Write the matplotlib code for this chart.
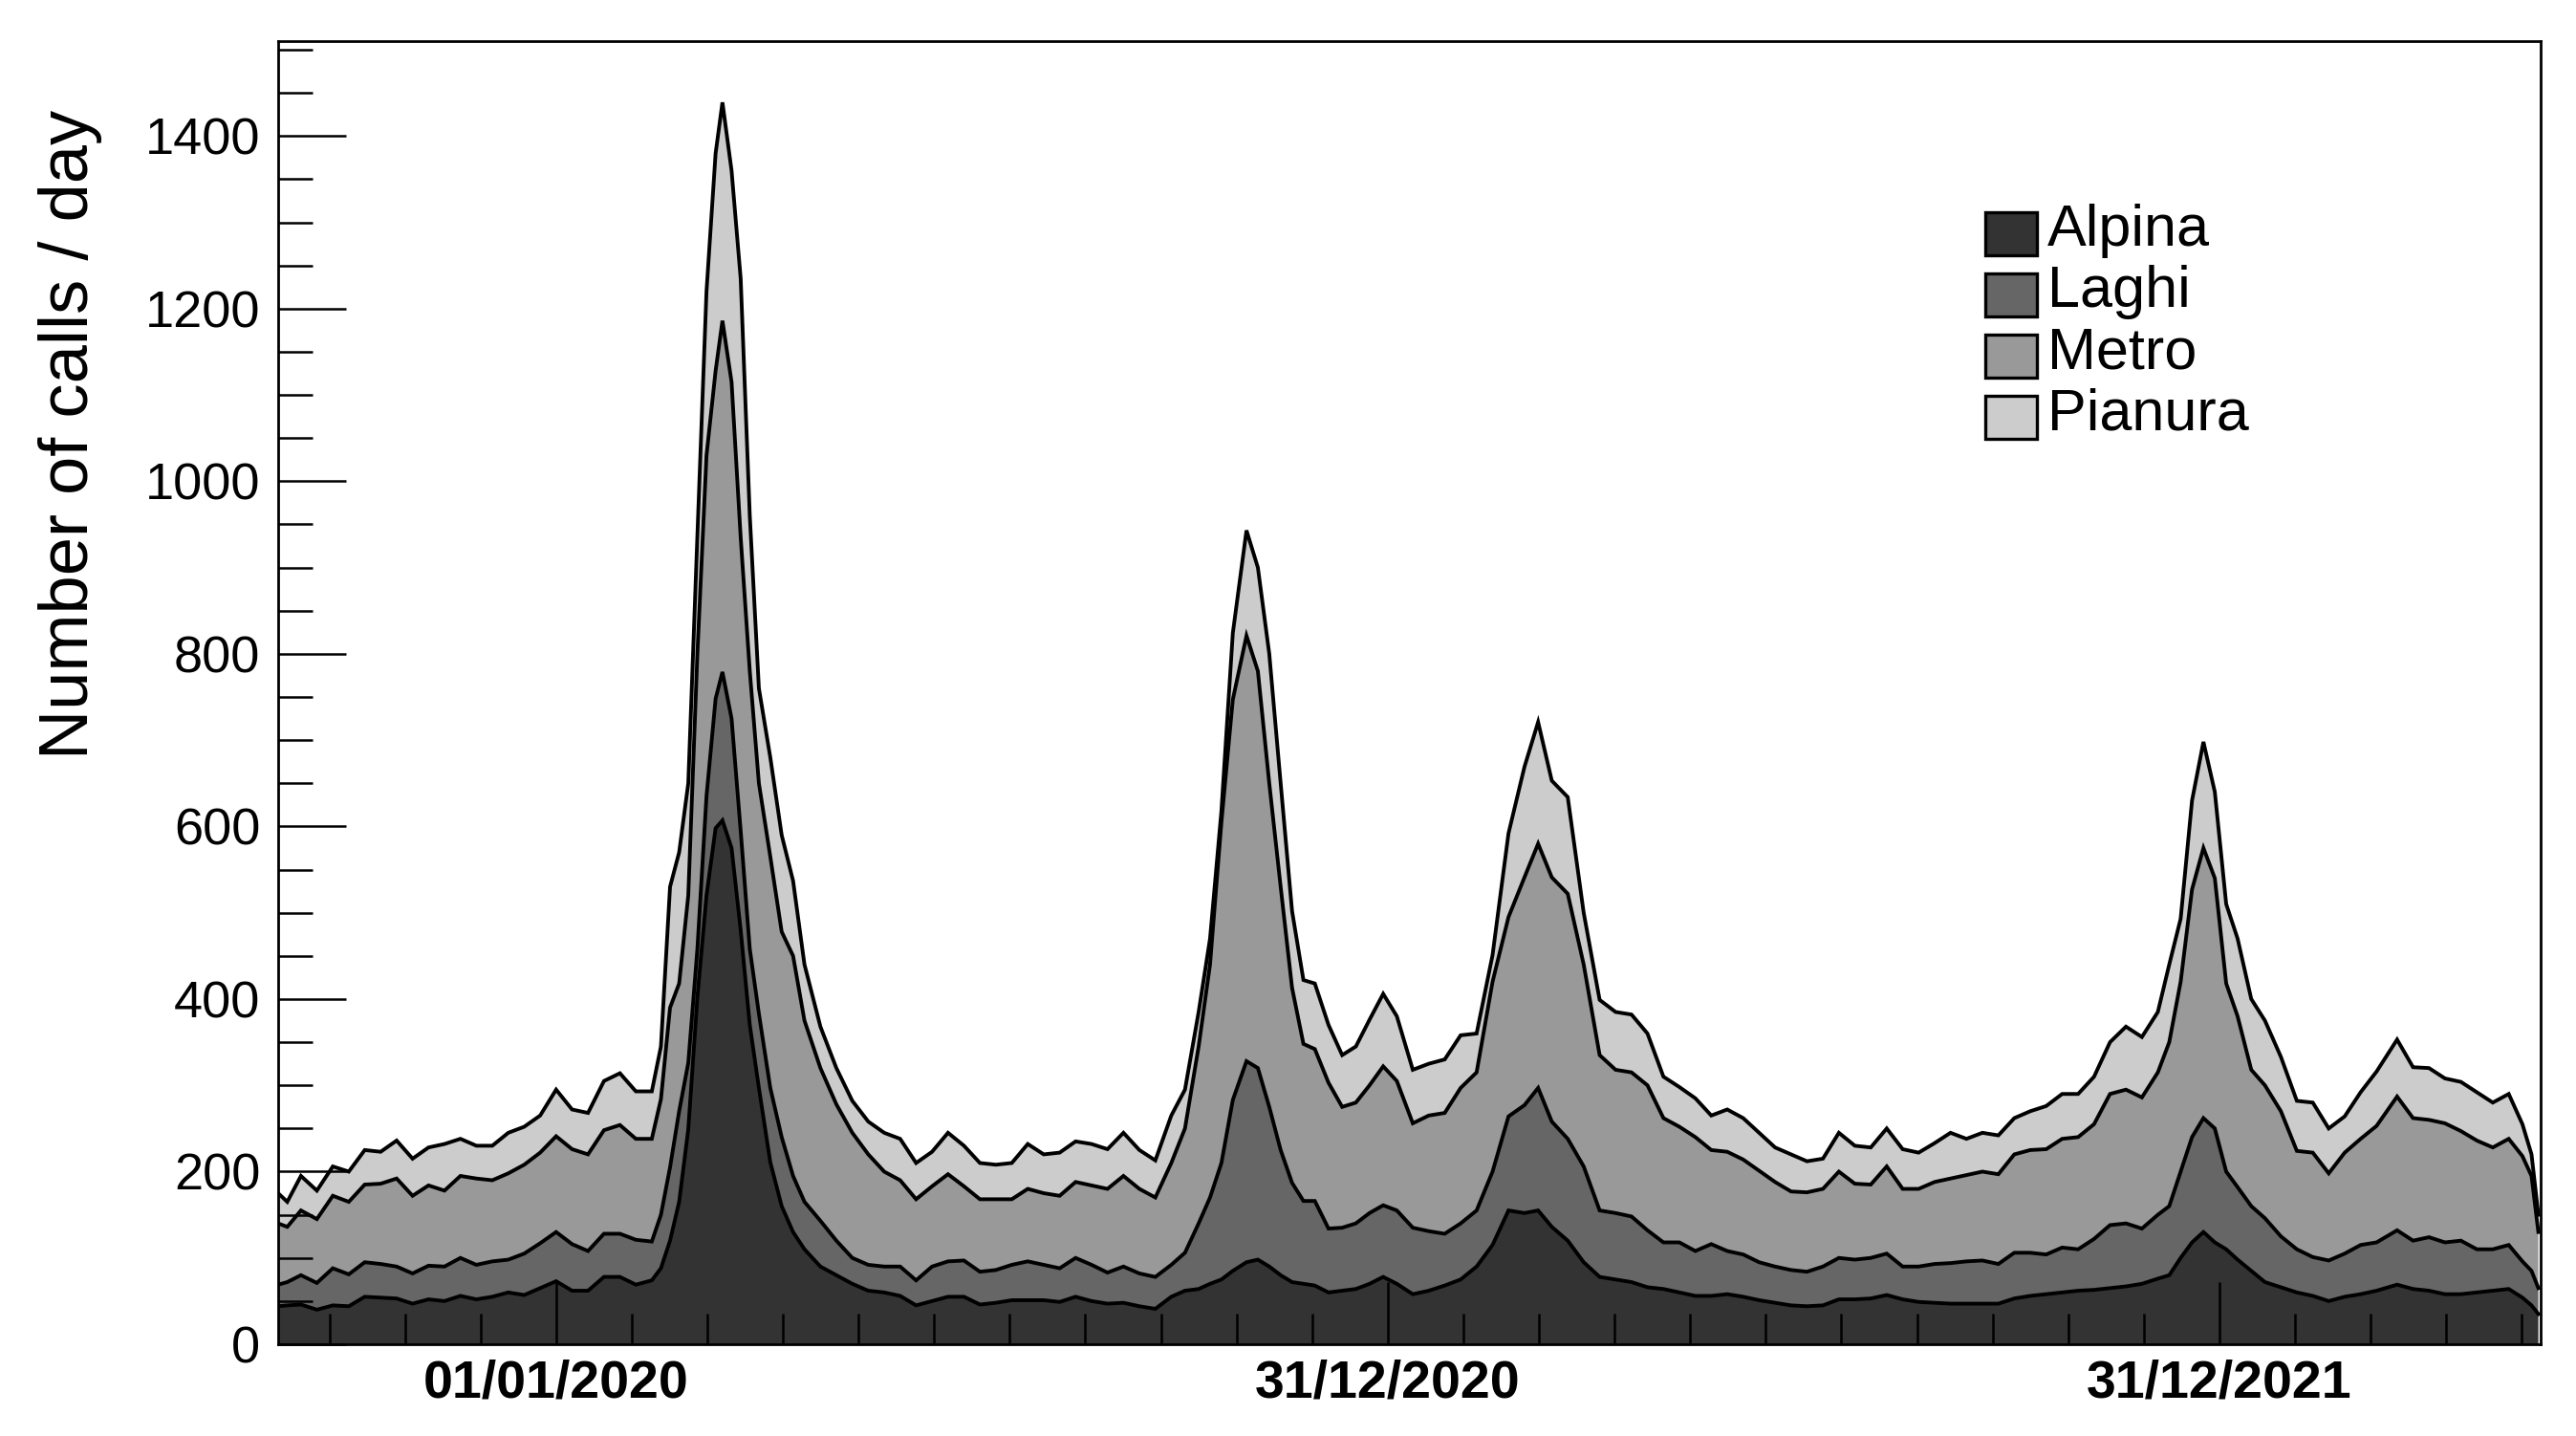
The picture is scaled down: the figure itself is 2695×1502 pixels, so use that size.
import numpy as np
import matplotlib
matplotlib.use('Agg')
import matplotlib.pyplot as plt
import matplotlib.dates as mdates
from matplotlib.ticker import MultipleLocator, FixedLocator, FixedFormatter, NullFormatter
from matplotlib.patches import Rectangle

plt.rcParams['font.family'] = ['Liberation Sans', 'DejaVu Sans']

# ---------------- data ----------------
start_date = '2019-09-01'
end_date = '2022-05-21'

day_offsets = [0, 4, 10, 17, 24, 31, 38, 45, 52, 59, 66, 73, 80, 87, 94, 101, 108, 115, 122, 129,
               136, 143, 150, 157, 164, 168, 172, 176, 180, 184, 188, 192, 195, 199, 203, 207, 211, 216, 221, 226,
               231, 238, 245, 252, 259, 266, 273, 280, 287, 294, 301, 308, 315, 322, 329, 336, 343, 350, 357, 364,
               371, 378, 385, 392, 398, 404, 409, 414, 419, 425, 430, 435, 440, 445, 450, 455, 461, 467, 473, 479,
               485, 491, 498, 505, 512, 519, 526, 533, 540, 547, 553, 559, 566, 573, 580, 587, 594, 601, 608, 615,
               622, 629, 636, 643, 650, 657, 664, 671, 678, 685, 692, 699, 706, 713, 720, 727, 734, 741, 748, 755,
               762, 769, 776, 783, 790, 797, 804, 811, 818, 825, 830, 835, 840, 845, 850, 855, 860, 866, 872, 879,
               886, 893, 900, 907, 914, 921, 930, 937, 944, 951, 958, 965, 972, 979, 985, 989, 992]

alpina = [44, 45, 46, 40, 45, 44, 55, 54, 53, 47, 52, 50, 56, 52, 55, 60, 57, 65, 73, 62,
          62, 78, 78, 69, 74, 88, 120, 165, 249, 402, 520, 598, 607, 575, 480, 370, 297, 211, 160, 130,
          110, 90, 80, 70, 62, 60, 56, 45, 50, 55, 55, 46, 48, 51, 51, 51, 49, 55, 50, 47,
          48, 44, 41, 55, 62, 64, 70, 75, 85, 95, 98, 90, 80, 72, 70, 68, 60, 62, 64, 70,
          78, 70, 58, 62, 68, 75, 90, 115, 155, 152, 155, 136, 120, 95, 78, 75, 72, 66, 64, 60,
          56, 56, 58, 55, 51, 48, 45, 44, 45, 52, 52, 53, 57, 52, 49, 48, 47, 47, 47, 47,
          53, 56, 58, 60, 62, 63, 65, 67, 70, 76, 80, 100, 118, 130, 118, 110, 98, 85, 72, 66,
          60, 56, 50, 55, 58, 62, 69, 64, 62, 58, 58, 60, 62, 64, 54, 45, 35]

laghi = [25, 27, 34, 31, 43, 37, 40, 39, 37, 35, 39, 40, 44, 40, 41, 38, 48, 52, 57, 54,
         46, 50, 50, 52, 45, 62, 85, 105, 77, 56, 115, 150, 172, 150, 115, 88, 86, 86, 80, 65,
         55, 53, 40, 30, 30, 30, 34, 29, 40, 41, 42, 38, 38, 41, 45, 41, 39, 45, 42, 36,
         42, 38, 37, 37, 44, 76, 100, 135, 198, 233, 222, 185, 145, 115, 96, 98, 74, 73, 76, 82,
         83, 85, 77, 69, 60, 65, 65, 85, 109, 125, 142, 122, 118, 111, 77, 77, 76, 66, 54, 58,
         52, 60, 50, 49, 44, 42, 41, 40, 45, 48, 46, 47, 48, 38, 41, 45, 47, 49, 50, 46,
         53, 50, 46, 52, 48, 59, 73, 73, 64, 74, 80, 100, 122, 132, 132, 90, 84, 75, 74, 59,
         50, 45, 47, 50, 57, 56, 63, 56, 62, 60, 62, 50, 48, 51, 42, 40, 30]

metro = [71, 64, 75, 74, 84, 84, 90, 93, 102, 90, 93, 88, 95, 100, 94, 100, 103, 105, 111, 110,
         112, 120, 126, 117, 119, 134, 185, 148, 194, 342, 395, 380, 407, 390, 340, 322, 267, 268, 238, 255,
         210, 177, 158, 145, 128, 110, 100, 94, 93, 101, 86, 84, 82, 76, 84, 83, 84, 88, 92, 97,
         105, 98, 92, 118, 144, 205, 270, 395, 464, 493, 460, 375, 305, 226, 182, 176, 169, 140, 140, 148,
         161, 150, 121, 134, 140, 157, 160, 220, 231, 264, 283, 283, 284, 234, 180, 166, 167, 168, 144, 134,
         132, 109, 115, 110, 106, 98, 91, 92, 90, 100, 88, 85, 101, 90, 90, 95, 98, 100, 103, 104,
         114, 119, 122, 126, 130, 133, 152, 155, 152, 165, 190, 220, 287, 313, 290, 218, 198, 158, 154, 145,
         114, 121, 101, 117, 123, 135, 155, 142, 136, 138, 127, 126, 118, 123, 122, 110, 65]

pianura = [35, 29, 40, 33, 34, 35, 40, 37, 44, 43, 44, 54, 43, 38, 40, 47, 44, 43, 54, 46,
           48, 57, 60, 55, 55, 61, 140, 152, 130, 137, 190, 252, 253, 245, 300, 180, 110, 115, 112, 87,
           65, 48, 42, 37, 38, 45, 48, 42, 40, 48, 47, 42, 40, 42, 52, 45, 50, 47, 48, 46,
           50, 45, 43, 55, 45, 40, 30, 13, 77, 122, 120, 150, 120, 89, 74, 76, 67, 60, 65, 76,
           84, 75, 62, 60, 62, 61, 45, 31, 97, 128, 141, 112, 112, 60, 64, 67, 67, 60, 48, 46,
           45, 40, 49, 48, 44, 40, 43, 36, 35, 45, 44, 43, 44, 46, 42, 45, 53, 42, 45, 45,
           42, 45, 50, 52, 50, 55, 60, 73, 70, 70, 90, 73, 103, 123, 100, 92, 90, 82, 75, 63,
           58, 58, 52, 42, 54, 63, 66, 59, 60, 52, 57, 56, 52, 52, 37, 25, 20]

series_names = ['Alpina', 'Laghi', 'Metro', 'Pianura']
series_colors = ['#333333', '#666666', '#999999', '#cccccc']

major_tick_dates = ['2020-01-01', '2020-12-31', '2021-12-31']
major_tick_labels = ['01/01/2020', '31/12/2020', '31/12/2021']
y_label = 'Number of calls / day'

# ---------------- figure ----------------
W, H = 2695, 1502
fig = plt.figure(figsize=(W / 100, H / 100), dpi=100)
ax = fig.add_axes([291 / W, (H - 1406) / H, (2658 - 291) / W, (1406 - 43) / H])

x = np.datetime64(start_date) + np.array(day_offsets).astype('timedelta64[D]')
xn = mdates.date2num(x)
layers = np.array([alpina, laghi, metro, pianura], dtype=float)
ax.stackplot(xn, layers, colors=series_colors, linewidth=0)
tops = np.cumsum(layers, axis=0)
for t in tops:
    ax.plot(xn, t, color='black', lw=2.8, solid_joinstyle='miter')

x0 = mdates.date2num(np.datetime64(start_date))
x1 = mdates.date2num(np.datetime64(end_date))
ax.set_xlim(x0, x1)
ax.set_ylim(0, 1510)

# y axis
ax.yaxis.set_major_locator(MultipleLocator(200))
ax.yaxis.set_minor_locator(MultipleLocator(50))
ax.tick_params(axis='y', which='major', direction='in', length=51, width=1.8,
               labelsize=39, pad=13.5, right=False)
ax.tick_params(axis='y', which='minor', direction='in', length=26, width=1.8, right=False)

# x axis
major_pos = mdates.date2num(np.array(major_tick_dates, dtype='datetime64[D]'))
ax.xaxis.set_major_locator(FixedLocator(major_pos))
ax.xaxis.set_major_formatter(FixedFormatter(major_tick_labels))
step = (major_pos[1] - major_pos[0]) / 11.0
minor_pos = major_pos[0] + np.arange(-11, 40) * step
minor_pos = minor_pos[(minor_pos > x0) & (minor_pos < x1)]
ax.xaxis.set_minor_locator(FixedLocator(minor_pos))
ax.xaxis.set_minor_formatter(NullFormatter())
ax.tick_params(axis='x', which='major', direction='in', length=47, width=1.8,
               labelsize=40, pad=11, top=False)
ax.tick_params(axis='x', which='minor', direction='in', length=23, width=1.8, top=False)
for lab in ax.get_xticklabels():
    lab.set_fontweight('bold')

for sp in ax.spines.values():
    sp.set_linewidth(2.0)
    sp.set_zorder(5)

ax.set_ylabel(y_label, fontsize=52)
ax.yaxis.set_label_coords(-0.0777, 0.698)

# legend (drawn manually to mimic ROOT layout)
for i, (name, col) in enumerate(zip(series_names, series_colors)):
    top = 222 + 64 * i
    fig.add_artist(Rectangle((2077 / W, 1 - (top + 45) / H), 54 / W, 45 / H,
                             transform=fig.transFigure, facecolor=col,
                             edgecolor='black', lw=2.4))
    fig.text(2142 / W, 1 - (257 + 64 * i) / H, name, fontsize=44,
             ha='left', va='baseline')

fig.savefig('out.png', dpi=100)
